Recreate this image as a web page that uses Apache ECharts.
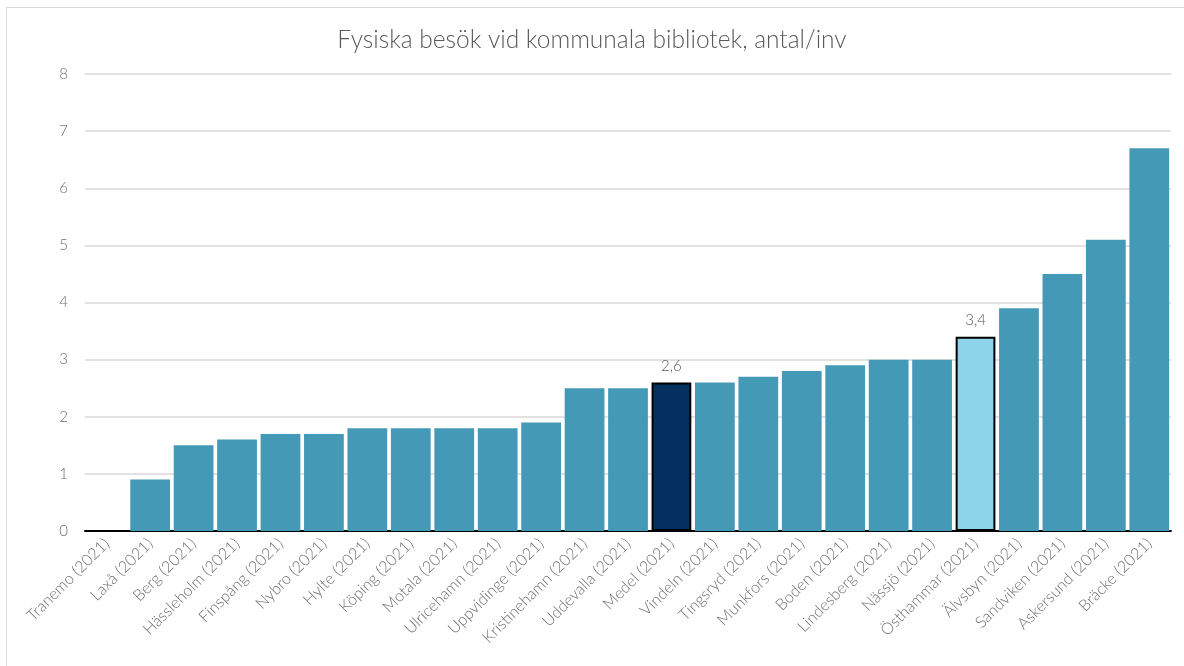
<!DOCTYPE html>
<html>
<head>
<meta charset="utf-8">
<script src="https://cdn.jsdelivr.net/npm/echarts@6/dist/echarts.min.js"></script>
<style>
  html, body { margin: 0; padding: 0; background: #ffffff; }
  .frame {
    position: absolute; left: 6px; top: 7px; width: 1200px; height: 700px;
    border: 1px solid #d9d9d9; box-sizing: border-box;
  }
  #chart { position: absolute; left: 0; top: 0; width: 1184px; height: 666px; }
</style>
</head>
<body>
<div class="frame"></div>
<div id="chart"></div>
<script>
// kommuner
const categories = [
  'Tranemo (2021)', 'Laxå (2021)', 'Berg (2021)', 'Hässleholm (2021)', 'Finspång (2021)',
  'Nybro (2021)', 'Hylte (2021)', 'Köping (2021)', 'Motala (2021)', 'Ulricehamn (2021)',
  'Uppvidinge (2021)', 'Kristinehamn (2021)', 'Uddevalla (2021)', 'Medel (2021)', 'Vindeln (2021)',
  'Tingsryd (2021)', 'Munkfors (2021)', 'Boden (2021)', 'Lindesberg (2021)', 'Nässjö (2021)',
  'Östhammar (2021)', 'Älvsbyn (2021)', 'Sandviken (2021)', 'Askersund (2021)', 'Bräcke (2021)'
]
// besök per invånare (Tranemo saknar värde)
const values = [
  null, 0.9, 1.5, 1.6, 1.7,
  1.7, 1.8, 1.8, 1.8, 1.8,
  1.9, 2.5, 2.5, 2.6, 2.6,
  2.7, 2.8, 2.9, 3.0, 3.0,
  3.4, 3.9, 4.5, 5.1, 6.7
]
const yTicks = [0, 1, 2, 3, 4, 5, 6, 7, 8]
const highlightAverage = 'Medel (2021)'
const highlightOwn = 'Östhammar (2021)'

const textColor = '#595959'
const fontFam = 'Lato, "Liberation Sans", sans-serif'

const myChart = echarts.init(document.getElementById('chart'))

// bygg data med specialfärg för medel och egen kommun
const barData = values.map((v, i) => {
  const name = categories[i]
  if (name === highlightAverage) {
    return {
      value: v,
      itemStyle: { color: '#03305f', borderColor: '#000000', borderWidth: 2 },
      label: { show: true }
    }
  }
  if (name === highlightOwn) {
    return {
      value: v,
      itemStyle: { color: '#8dd3ea', borderColor: '#000000', borderWidth: 2 },
      label: { show: true }
    }
  }
  return v
})

const options = {
  animation: false,
  title: {
    text: 'Fysiska besök vid kommunala bibliotek, antal/inv',
    left: 'center',
    top: 23,
    textStyle: {
      color: textColor,
      fontFamily: fontFam,
      fontSize: 24.5,
      fontWeight: 300
    }
  },
  grid: {
    left: 85,
    right: 13,
    top: 74,
    bottom: 135
  },
  xAxis: {
    type: 'category',
    data: categories,
    axisLine: { lineStyle: { color: '#000000', width: 2 } },
    axisTick: { show: false },
    axisLabel: {
      rotate: 45,
      interval: 0,
      margin: 10,
      color: '#6f6f6f',
      fontFamily: fontFam,
      fontSize: 16,
      fontWeight: 300
    }
  },
  yAxis: {
    type: 'value',
    min: yTicks[0],
    max: yTicks[yTicks.length - 1],
    interval: 1,
    axisLine: { show: false },
    axisTick: { show: false },
    axisLabel: {
      margin: 17,
      color: '#6f6f6f',
      fontFamily: fontFam,
      fontSize: 15,
      fontWeight: 300
    },
    splitLine: { lineStyle: { color: '#d9d9d9', width: 1.5 } }
  },
  series: [{
    type: 'bar',
    data: barData,
    barCategoryGap: '8.5%',
    itemStyle: { color: '#4399b6' },
    label: {
      show: false,
      position: 'top',
      distance: 9,
      color: textColor,
      fontFamily: fontFam,
      fontSize: 15,
      fontWeight: 300,
      formatter: p => String(p.value).replace('.', ',')
    }
  }]
}
myChart.setOption(options)
</script>
</body>
</html>
